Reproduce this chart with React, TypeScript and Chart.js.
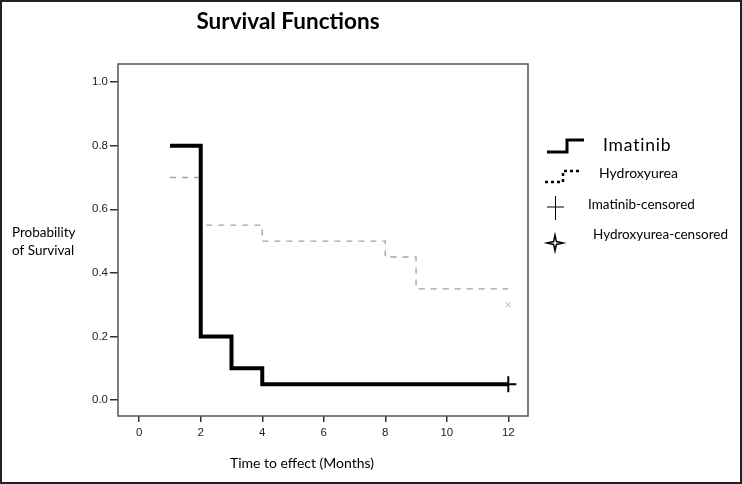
import React, { useEffect, useRef } from "react";
import { Chart, registerables } from "chart.js";

Chart.register(...registerables);

const xTicks = [0, 2, 4, 6, 8, 10, 12];
const yTicks = [0, 0.2, 0.4, 0.6, 0.8, 1.0];

const imatinibTimes = [1, 2, 3, 4, 12];
const imatinibSurv = [0.8, 0.2, 0.1, 0.05, 0.05];

const hydroxyTimes = [1, 2, 4, 8, 9, 12];
const hydroxySurv = [0.7, 0.55, 0.5, 0.45, 0.35, 0.35];

const imatinibCensorTimes = [12];
const imatinibCensorSurv = [0.05];
const hydroxyCensorTimes = [12];
const hydroxyCensorSurv = [0.3];

const legendLabels = ["Imatinib", "Hydroxyurea", "Imatinib-censored", "Hydroxyurea-censored"];

const LABEL_FONT = "Lato, Carlito, 'Open Sans', sans-serif";
const TICK_FONT = "'Liberation Sans', Arial, sans-serif";

const toPts = (xs: number[], ys: number[]) => xs.map((x, i) => ({ x, y: ys[i] }));

const decorPlugin = {
  id: "decor",
  beforeDatasetsDraw(chart: any) {
    const { ctx, chartArea } = chart;
    ctx.save();
    ctx.strokeStyle = "#555";
    ctx.lineWidth = 1.5;
    ctx.strokeRect(chartArea.left, chartArea.top, chartArea.right - chartArea.left, chartArea.bottom - chartArea.top);
    ctx.restore();
  },
  afterDraw(chart: any) {
    const { ctx } = chart;
    ctx.save();
    ctx.strokeStyle = "#222";
    ctx.lineWidth = 2;
    ctx.strokeRect(1, 1, 740, 482);

    ctx.fillStyle = "#000";
    ctx.textAlign = "center";
    ctx.textBaseline = "middle";
    ctx.font = `bold 22.5px ${LABEL_FONT}`;
    ctx.fillText("Survival Functions", 288, 22);

    ctx.textAlign = "left";
    ctx.font = `13.5px ${LABEL_FONT}`;
    ctx.fillText("Probability", 12, 233);
    ctx.fillText("of Survival", 12, 251);

    ctx.textAlign = "center";
    ctx.font = `14px ${LABEL_FONT}`;
    ctx.fillText("Time to effect (Months)", 302, 463);

    ctx.textAlign = "left";
    ctx.strokeStyle = "#000";
    ctx.lineWidth = 3;
    ctx.setLineDash([]);
    ctx.beginPath();
    ctx.moveTo(547, 152);
    ctx.lineTo(567, 152);
    ctx.lineTo(567, 140);
    ctx.lineTo(584, 140);
    ctx.stroke();
    ctx.font = `17.5px ${LABEL_FONT}`;
    (ctx as any).letterSpacing = "0.8px";
    ctx.fillText(legendLabels[0], 603, 145);
    (ctx as any).letterSpacing = "0px";

    ctx.lineWidth = 2.5;
    ctx.setLineDash([3, 3]);
    ctx.beginPath();
    ctx.moveTo(545, 182);
    ctx.lineTo(563, 182);
    ctx.lineTo(563, 171);
    ctx.lineTo(582, 171);
    ctx.stroke();
    ctx.setLineDash([]);
    ctx.font = `14px ${LABEL_FONT}`;
    ctx.fillText(legendLabels[1], 599, 173);

    ctx.lineWidth = 1;
    ctx.beginPath();
    ctx.moveTo(547, 207);
    ctx.lineTo(564, 207);
    ctx.moveTo(555.5, 196);
    ctx.lineTo(555.5, 220);
    ctx.stroke();
    ctx.font = `13.5px ${LABEL_FONT}`;
    ctx.fillText(legendLabels[2], 588, 205);

    const cx = 555, cy = 243, r = 8, ri = 2;
    ctx.lineWidth = 1.5;
    ctx.beginPath();
    for (let i = 0; i < 8; i++) {
      const ang = (Math.PI / 4) * i - Math.PI / 2;
      const rad = i % 2 === 0 ? r : ri;
      const px = cx + rad * Math.cos(ang);
      const py = cy + rad * Math.sin(ang);
      if (i === 0) ctx.moveTo(px, py);
      else ctx.lineTo(px, py);
    }
    ctx.closePath();
    ctx.stroke();
    ctx.font = `13.5px ${LABEL_FONT}`;
    ctx.fillText(legendLabels[3], 593, 235);

    ctx.restore();
  },
};

export default function App() {
  const ref = useRef<HTMLCanvasElement | null>(null);

  useEffect(() => {
    if (!ref.current) return;
    const chart = new Chart(ref.current, {
      type: "line",
      data: {
        datasets: [
          {
            label: "Imatinib",
            data: toPts(imatinibTimes, imatinibSurv),
            stepped: "before",
            borderColor: "#000",
            borderWidth: 4,
            pointRadius: 0,
            fill: false,
          },
          {
            label: "Hydroxyurea",
            data: toPts(hydroxyTimes, hydroxySurv),
            stepped: "before",
            borderColor: "#9aa69a",
            borderWidth: 1.3,
            borderDash: [6, 6],
            pointRadius: 0,
            fill: false,
          },
          {
            label: "Imatinib-censored",
            data: toPts(imatinibCensorTimes, imatinibCensorSurv),
            showLine: false,
            pointStyle: "cross",
            pointRadius: 8,
            borderColor: "#000",
            backgroundColor: "#000",
            pointBorderWidth: 2,
          },
          {
            label: "Hydroxyurea-censored",
            data: toPts(hydroxyCensorTimes, hydroxyCensorSurv),
            showLine: false,
            pointStyle: "crossRot",
            pointRadius: 3.5,
            borderColor: "#a8b4a8",
            backgroundColor: "#a8b4a8",
            pointBorderWidth: 1,
          },
        ],
      },
      options: {
        animation: false,
        responsive: false,
        devicePixelRatio: 1,
        layout: { padding: { top: 64, right: 214, left: 0, bottom: 0 } },
        plugins: { legend: { display: false }, tooltip: { enabled: false }, title: { display: false } },
        scales: {
          x: {
            type: "linear",
            min: -0.69,
            max: 12.64,
            afterBuildTicks: (s: any) => {
              s.ticks = xTicks.map((v) => ({ value: v }));
            },
            afterFit: (s: any) => {
              s.height = 68;
            },
            border: { display: false },
            grid: { drawOnChartArea: false, drawTicks: true, tickLength: 6, color: "#333", lineWidth: 1.5 },
            ticks: { font: { family: TICK_FONT, size: 11.5 }, color: "#222", padding: 4, maxRotation: 0 },
          },
          y: {
            type: "linear",
            min: -0.05,
            max: 1.057,
            afterBuildTicks: (s: any) => {
              s.ticks = yTicks.map((v) => ({ value: v }));
            },
            afterFit: (s: any) => {
              s.width = 118;
            },
            border: { display: false },
            grid: { drawOnChartArea: false, drawTicks: true, tickLength: 8, color: "#333", lineWidth: 1.5 },
            ticks: {
              font: { family: TICK_FONT, size: 11.5 },
              color: "#222",
              padding: 2,
              callback: (v: any) => Number(v).toFixed(1),
            },
          },
        },
      },
      plugins: [decorPlugin],
    });
    return () => chart.destroy();
  }, []);

  return (
    <div style={{ position: "absolute", left: 0, top: 0, width: 742, height: 484, background: "#fff" }}>
      <canvas ref={ref} width={742} height={484} style={{ display: "block" }} />
    </div>
  );
}
